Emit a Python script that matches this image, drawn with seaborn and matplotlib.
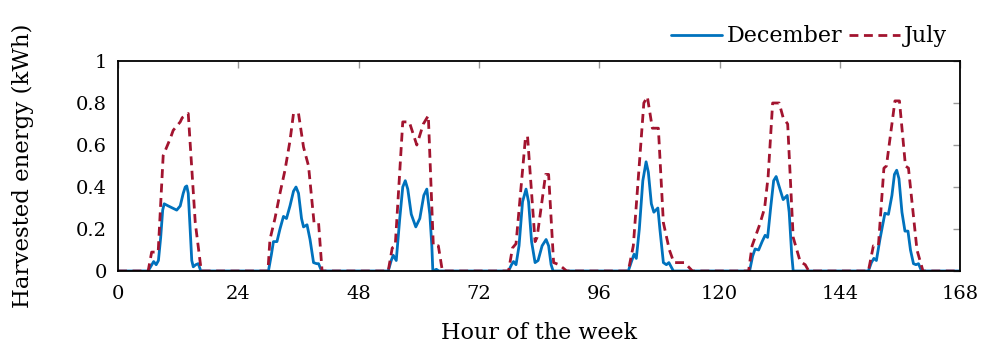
import matplotlib
matplotlib.use("Agg")
import matplotlib.pyplot as plt
import seaborn as sns
import pandas as pd

# hour of the week / harvested energy (kWh)
dec_hours = [0,
             6.0, 7.1, 7.6, 8.05, 8.5, 8.9, 9.2, 10.0, 11.7, 12.4, 13.0, 13.4, 13.7, 14.0, 14.4, 14.7, 15.0, 15.5, 16.0, 16.5,
             30.0, 30.6, 31.0, 31.7, 32.3, 33.0, 33.6, 34.3, 35.0, 35.5, 36.0, 36.6, 37.0, 37.7, 38.3, 39.0, 39.6, 40.0, 40.6,
             53.9, 54.5, 54.9, 55.5, 56.2, 56.8, 57.3, 57.8, 58.5, 59.4, 60.2, 61.0, 61.6, 62.2, 62.6, 62.8, 63.5, 64.0,
             77.9, 78.5, 78.9, 79.4, 80.0, 80.7, 81.4, 81.9, 82.5, 83.2, 83.8, 84.6, 85.4, 85.9, 86.4, 86.8,
             101.8, 102.5, 102.95, 103.4, 104.0, 104.7, 105.35, 105.8, 106.4, 106.9, 107.7, 108.1, 108.8, 109.4, 109.9, 110.8,
             126.0, 126.6, 127.1, 127.8, 128.5, 129.1, 129.6, 130.2, 130.8, 131.3, 131.8, 132.7, 133.5, 133.9, 134.4, 134.7,
             149.7, 150.3, 150.8, 151.3, 152.0, 153.0, 153.7, 154.4, 154.9, 155.35, 155.8, 156.4, 157.0, 157.6, 158.1, 158.7, 159.2, 159.7, 160.3,
             168]
dec_energy = [0,
              0, 0.045, 0.03, 0.05, 0.16, 0.29, 0.32, 0.31, 0.29, 0.31, 0.37, 0.40, 0.405, 0.37, 0.19, 0.05, 0.02, 0.03, 0.035, 0,
              0, 0.08, 0.14, 0.14, 0.20, 0.26, 0.25, 0.31, 0.38, 0.40, 0.37, 0.25, 0.21, 0.22, 0.15, 0.04, 0.035, 0.035, 0,
              0, 0.05, 0.075, 0.05, 0.25, 0.40, 0.43, 0.39, 0.27, 0.21, 0.25, 0.36, 0.39, 0.27, 0.12, 0, 0.008, 0,
              0, 0.03, 0.045, 0.03, 0.12, 0.33, 0.39, 0.33, 0.14, 0.04, 0.05, 0.12, 0.15, 0.12, 0.03, 0,
              0, 0.05, 0.08, 0.06, 0.20, 0.43, 0.52, 0.47, 0.32, 0.28, 0.30, 0.20, 0.04, 0.03, 0.04, 0,
              0, 0.07, 0.105, 0.10, 0.14, 0.17, 0.16, 0.30, 0.43, 0.45, 0.41, 0.34, 0.36, 0.28, 0.08, 0,
              0, 0.04, 0.06, 0.05, 0.15, 0.275, 0.27, 0.36, 0.46, 0.48, 0.44, 0.28, 0.19, 0.19, 0.10, 0.035, 0.03, 0.035, 0,
              0]

jul_hours = [0,
             6.0, 6.7, 8.0, 9.0, 10.4, 11.0, 12.4, 12.8, 14.0, 15.4, 16.6,
             29.9, 30.3, 31.3, 32.3, 33.3, 34.3, 35.0, 36.0, 37.0, 38.0, 39.1, 40.0, 40.7,
             53.9, 54.7, 55.3, 56.8, 58.1, 59.6, 60.9, 61.9, 62.9, 63.9, 64.7,
             77.9, 78.7, 79.4, 81.3, 81.7, 83.2, 83.6, 85.3, 85.9, 86.9, 88.0, 89.5,
             101.8, 102.8, 104.9, 105.6, 106.6, 107.8, 108.8, 110.0, 110.9, 113.0, 114.6,
             125.8, 126.5, 128.0, 129.0, 129.7, 130.6, 131.9, 132.7, 133.6, 134.7, 136.1, 137.1, 137.8,
             149.7, 150.7, 151.7, 152.8, 153.3, 155.0, 155.9, 157.1, 157.7, 159.4, 160.6,
             168]
jul_energy = [0,
              0, 0.09, 0.09, 0.55, 0.63, 0.67, 0.71, 0.73, 0.75, 0.23, 0,
              0, 0.15, 0.25, 0.37, 0.48, 0.62, 0.75, 0.75, 0.59, 0.50, 0.23, 0.23, 0,
              0, 0.11, 0.12, 0.71, 0.71, 0.60, 0.70, 0.74, 0.12, 0.12, 0,
              0, 0.11, 0.13, 0.64, 0.64, 0.14, 0.16, 0.46, 0.46, 0.04, 0.03, 0,
              0, 0.12, 0.80, 0.83, 0.68, 0.68, 0.23, 0.10, 0.04, 0.04, 0,
              0, 0.12, 0.22, 0.30, 0.45, 0.80, 0.80, 0.73, 0.70, 0.16, 0.045, 0.03, 0,
              0, 0.12, 0.12, 0.49, 0.50, 0.81, 0.81, 0.50, 0.49, 0.10, 0,
              0]

x_ticks = [0, 24, 48, 72, 96, 120, 144, 168]
y_ticks = [0, 0.2, 0.4, 0.6, 0.8, 1]
y_tick_labels = ["0", "0.2", "0.4", "0.6", "0.8", "1"]

df = pd.concat([
    pd.DataFrame({"hour": dec_hours, "energy": dec_energy, "month": "December"}),
    pd.DataFrame({"hour": jul_hours, "energy": jul_energy, "month": "July"}),
])

sns.set_style("white")
plt.rcParams["font.family"] = ["DejaVu Serif"]
plt.rcParams["text.color"] = "black"
plt.rcParams["axes.labelcolor"] = "black"
plt.rcParams["xtick.color"] = "black"
plt.rcParams["ytick.color"] = "black"

fig = plt.figure(figsize=(9.84, 3.5), dpi=100)
ax = fig.add_axes([0.12, 0.2257, 0.8557, 0.6])

sns.lineplot(data=df, x="hour", y="energy", hue="month", style="month",
             hue_order=["December", "July"], style_order=["December", "July"],
             palette={"December": "#0072BD", "July": "#A2142F"},
             dashes={"December": "", "July": (3.2, 2)},
             estimator=None, sort=False, linewidth=2.0, ax=ax)

ax.set_xlim(0, 168)
ax.set_ylim(0, 1)
ax.set_xticks(x_ticks)
ax.set_yticks(y_ticks)
ax.set_yticklabels(y_tick_labels)
ax.tick_params(direction="in", length=5, width=1, color="#999999",
               labelcolor="black", top=True, right=True, labelsize=14, pad=8)
ax.tick_params(axis="x", pad=10)
for s in ax.spines.values():
    s.set_color("black")
    s.set_linewidth(1.3)

ax.set_xlabel("Hour of the week", fontsize=16, labelpad=14)
ax.set_ylabel("Harvested energy (kWh)", fontsize=16.5, labelpad=30)

ax.legend(loc="lower right", bbox_to_anchor=(0.985, 1.065), ncol=2, frameon=False,
          fontsize=16, handlelength=2.3, handletextpad=0.2, columnspacing=0.3,
          borderaxespad=0, borderpad=0)

fig.savefig("out.png", dpi=100)
